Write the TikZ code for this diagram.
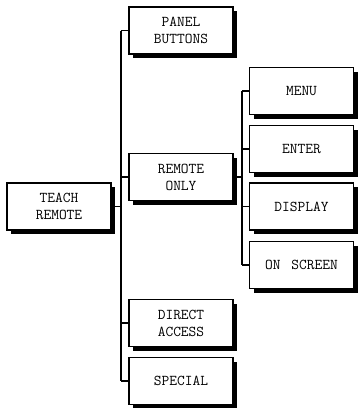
\documentclass[tikz,border=0pt]{standalone}
\usepackage{fontspec}
\usetikzlibrary{shadows}
\begin{document}
\begin{tikzpicture}[x=1pt,y=-1pt,
  box/.style={draw=black, line width=1.2pt, fill=white, minimum width=104pt, minimum height=47pt,
    inner sep=0pt, align=center, font=\ttfamily\fontsize{15}{17}\selectfont,
    drop shadow={shadow xshift=4pt, shadow yshift=-4pt, fill=black, opacity=1}},
  conn/.style={draw=black, line width=1.8pt}]
\useasboundingbox (0,0) rectangle (357,408);
\node[box] (teach) at (59,206.5) {TEACH\\REMOTE};
\node[box] (panel) at (181,30.5) {PANEL\\BUTTONS};
\node[box] (remote) at (181,177) {REMOTE\\ONLY};
\node[box] (direct) at (181,323) {DIRECT\\ACCESS};
\node[box] (special) at (181,381) {SPECIAL};
\node[box] (menu) at (301.5,91) {MENU};
\node[box] (enter) at (301.5,149) {ENTER};
\node[box] (display) at (301.5,206.5) {DISPLAY};
\node[box] (onscreen) at (301.5,265) {ON\hspace{3pt} SCREEN};
\coordinate (tx) at (121,0);
\coordinate (sx) at (242,0);
\draw[conn] (teach.east) -- (teach.east -| tx);
\draw[conn] (panel.west -| tx) -- (special.west -| tx);
\foreach \n in {panel,remote,direct,special}
  \draw[conn] (\n.west -| tx) -- (\n.west);
\draw[conn] (remote.east) -- (remote.east -| sx);
\draw[conn] (menu.west -| sx) -- (onscreen.west -| sx);
\foreach \n in {menu,enter,display,onscreen}
  \draw[conn] (\n.west -| sx) -- (\n.west);
\end{tikzpicture}
\end{document}
